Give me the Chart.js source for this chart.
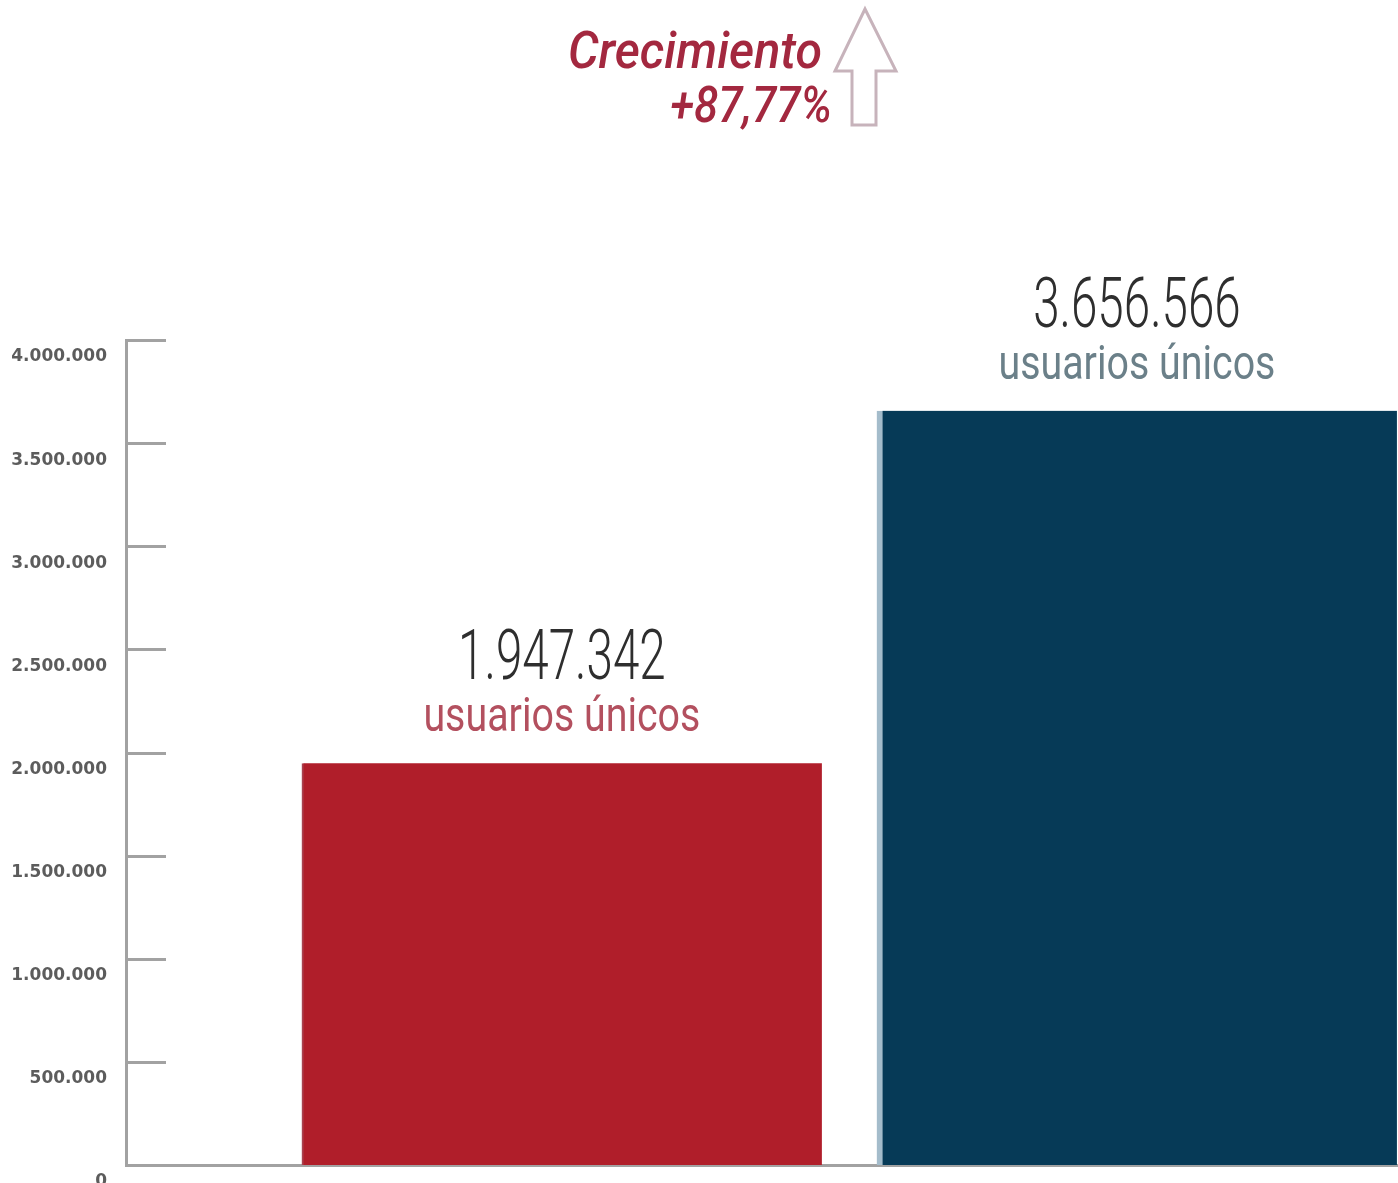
<!DOCTYPE html>
<html lang="es">
<head>
    <meta charset="UTF-8">
    <title>Usuarios únicos</title>
    <script src="https://cdn.jsdelivr.net/npm/chart.js"></script>
    <style>
        html, body { margin: 0; padding: 0; background: #fff; overflow: hidden; }
        #wrap { width: 1398px; height: 1183px; }
    </style>
</head>
<body>
    <div id="wrap"><canvas id="usuariosChart"></canvas></div>

    <script>
        // datos
        const posiciones = [1, 2];
        const usuarios = [1947342, 3656566];
        const etiquetasValor = ["1.947.342", "3.656.566"];
        const etiquetasTexto = ["usuarios únicos", "usuarios únicos"];
        const ticksY = [0, 500000, 1000000, 1500000, 2000000, 2500000, 3000000, 3500000, 4000000];
        const tituloLineas = ["Crecimiento", "+87,77%"];

        const coloresBarra = ["#b01e2a", "#063a57"];
        const coloresTexto = ["#b3505f", "#6b8089"];

        function formatoPuntos(v) {
            return v.toString().replace(/\B(?=(\d{3})+(?!\d))/g, ".");
        }

        function textoEstrecho(ctx, texto, x, y, font, escala, color, align) {
            ctx.save();
            ctx.font = font;
            ctx.fillStyle = color;
            ctx.textBaseline = "alphabetic";
            let w = ctx.measureText(texto).width * escala;
            let x0 = x;
            if (align === "center") x0 = x - w / 2;
            if (align === "right") x0 = x - w;
            ctx.translate(x0, y);
            ctx.scale(escala, 1);
            ctx.textAlign = "left";
            ctx.fillText(texto, 0, 0);
            ctx.restore();
        }

        const etiquetasPlugin = {
            id: "etiquetas",
            afterDatasetsDraw(chart) {
                const ctx = chart.ctx;
                const meta = chart.getDatasetMeta(0);
                meta.data.forEach(function (bar, i) {
                    textoEstrecho(ctx, etiquetasValor[i], bar.x, bar.y - 84, "300 70px Roboto", 0.68, "#2e2e2e", "center");
                    textoEstrecho(ctx, etiquetasTexto[i], bar.x, bar.y - 32, "400 48px Roboto", 0.82, coloresTexto[i], "center");
                });

                // marcas del eje Y hacia dentro
                const y = chart.scales.y;
                ctx.save();
                ctx.strokeStyle = "#a2a2a2";
                ctx.lineWidth = 3;
                y.ticks.forEach(function (t) {
                    let py = Math.round(y.getPixelForValue(t.value)) + 0.5;
                    ctx.beginPath();
                    ctx.moveTo(y.right, py);
                    ctx.lineTo(y.right + 40, py);
                    ctx.stroke();
                });
                ctx.restore();

                // titulo con flecha
                const cx = 832;
                textoEstrecho(ctx, tituloLineas[0], cx - 10, 68, "italic 500 52px Roboto", 0.93, "#a3283f", "right");
                textoEstrecho(ctx, tituloLineas[1], cx, 122, "italic 500 50px Roboto", 0.88, "#a3283f", "right");

                ctx.save();
                ctx.strokeStyle = "#c7b3bb";
                ctx.lineWidth = 3;
                ctx.lineJoin = "miter";
                ctx.beginPath();
                ctx.moveTo(865, 9);
                ctx.lineTo(896, 71);
                ctx.lineTo(876, 71);
                ctx.lineTo(876, 125);
                ctx.lineTo(852, 125);
                ctx.lineTo(852, 71);
                ctx.lineTo(835, 71);
                ctx.closePath();
                ctx.stroke();
                ctx.restore();
            }
        };

        const ctx = document.getElementById("usuariosChart").getContext("2d");
        new Chart(ctx, {
            type: "bar",
            data: {
                datasets: [{
                    data: posiciones.map(function (p, i) { return { x: p, y: usuarios[i] }; }),
                    backgroundColor: coloresBarra,
                    borderColor: ["#a9424f", "#a4bccb"],
                    borderWidth: [{ left: 2, top: 0, right: 0, bottom: 0 }, { left: 6, top: 0, right: 0, bottom: 0 }],
                    borderSkipped: false,
                    barThickness: 520
                }]
            },
            options: {
                responsive: true,
                maintainAspectRatio: false,
                animation: false,
                layout: { padding: { top: 340, right: 0, bottom: 18, left: 0 } },
                plugins: {
                    legend: { display: false },
                    tooltip: { enabled: false }
                },
                scales: {
                    x: {
                        type: "linear",
                        offset: false,
                        min: 0.242,
                        max: 2.454,
                        ticks: { display: false },
                        grid: { display: false },
                        border: { display: true, color: "#a2a2a2", width: 3 },
                        afterFit: function (scale) {
                            scale.height = 0;
                            scale.paddingLeft = 0;
                            scale.paddingRight = 0;
                        }
                    },
                    y: {
                        min: 0,
                        max: 4000000,
                        afterBuildTicks: function (scale) {
                            scale.ticks = ticksY.map(function (v) { return { value: v }; });
                        },
                        afterFit: function (scale) {
                            scale.width = 126;
                            scale.paddingTop = 0;
                            scale.paddingBottom = 0;
                        },
                        ticks: {
                            padding: 19,
                            labelOffset: 17,
                            color: "#5c5c5c",
                            font: { family: "DejaVu Sans", size: 17, weight: "bold" },
                            callback: function (v) { return formatoPuntos(v); }
                        },
                        grid: { display: false, drawTicks: false },
                        border: { display: true, color: "#a2a2a2", width: 3 }
                    }
                }
            },
            plugins: [etiquetasPlugin]
        });
    </script>
</body>
</html>
